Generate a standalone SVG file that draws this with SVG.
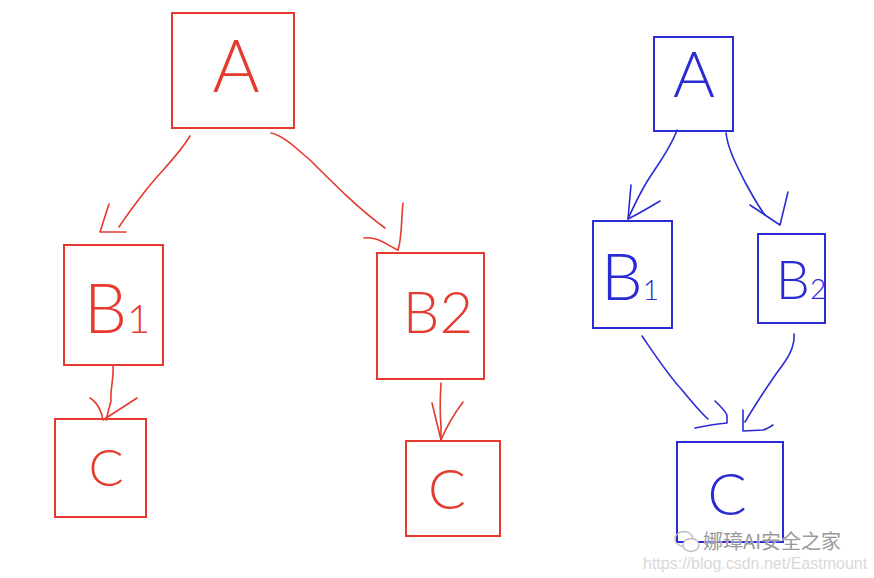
<svg xmlns="http://www.w3.org/2000/svg" width="874" height="578" viewBox="0 0 874 578">
  <style>
    .red { stroke: #e53a2e; }
    .blue { stroke: #2b2bd6; }
    .box { fill: none; stroke-width: 2; }
    .ln { fill: none; stroke-width: 1.6; stroke-linecap: round; stroke-linejoin: round; }
    .lbl { font-family: "Lato", "Inter", "Liberation Sans", sans-serif; font-weight: 300; text-anchor: middle; }
    .lr { fill: #e53a2e; }
    .lb { fill: #2b2bd6; }
    .wm1 { font-family: "Noto Sans CJK SC", "Liberation Sans", sans-serif; font-size: 20px; fill: #9a9a9a; stroke: #ffffff; stroke-width: 0.6; paint-order: stroke; }
    .wm2 { font-family: "Liberation Sans", "Arial", sans-serif; font-size: 16px; fill: #d8d8d8; }
  </style>
  <rect width="874" height="578" fill="#ffffff"/>

  <!-- left tree (red) -->
  <g id="red-A">
    <rect class="box red" x="172" y="13" width="122" height="115"/>
    <text class="lbl lr" x="236" y="92" font-size="72">A</text>
  </g>
  <g id="red-B1">
    <rect class="box red" x="64" y="245" width="99" height="120"/>
    <text class="lbl lr" x="117" y="333" font-size="68">B<tspan font-size="40">1</tspan></text>
  </g>
  <g id="red-B2">
    <rect class="box red" x="377" y="253" width="107" height="126"/>
    <text class="lbl lr" x="438" y="333" font-size="58">B2</text>
  </g>
  <g id="red-C1">
    <rect class="box red" x="55" y="419" width="91" height="98"/>
    <text class="lbl lr" x="106" y="486" font-size="52">C</text>
  </g>
  <g id="red-C2">
    <rect class="box red" x="406" y="441" width="94" height="95"/>
    <text class="lbl lr" x="447" y="509" font-size="56">C</text>
  </g>

  <!-- right graph (blue) -->
  <g id="blue-A">
    <rect class="box blue" x="654" y="37" width="79" height="94"/>
    <text class="lbl lb" x="694" y="97" font-size="64">A</text>
  </g>
  <g id="blue-B1">
    <rect class="box blue" x="593" y="221" width="79" height="107"/>
    <text class="lbl lb" x="630" y="300" font-size="66">B<tspan font-size="28">1</tspan></text>
  </g>
  <g id="blue-B2">
    <rect class="box blue" x="758" y="234" width="67" height="89"/>
    <text class="lbl lb" x="801" y="299" font-size="54">B<tspan font-size="28">2</tspan></text>
  </g>
  <g id="blue-C">
    <rect class="box blue" x="677" y="442" width="106" height="100"/>
    <text class="lbl lb" x="727" y="515" font-size="58">C</text>
  </g>

  <!-- connectors -->
  <g id="connectors">
    <!-- red A -> B1 -->
    <path class="ln red" d="M190 136 C178 156 160 172 146 190 C136 203 126 216 119 227"/>
    <path class="ln red" d="M109 204 L100 232 L126 232"/>
    <!-- red A -> B2 -->
    <path class="ln red" d="M271 133 C283 135 298 150 310 160 C335 185 360 210 385 228"/>
    <path class="ln red" d="M403 203 C401 222 402 238 398 250"/>
    <path class="ln red" d="M364 238 C378 236 388 246 398 250"/>
    <!-- red B1 -> C -->
    <path class="ln red" d="M113 365 C114 378 110 390 111 401 L106 420"/>
    <path class="ln red" d="M90 398 C97 402 102 412 103 420 L137 398"/>
    <!-- red B2 -> C -->
    <path class="ln red" d="M441 383 C440 400 440 416 441 426 L441 440"/>
    <path class="ln red" d="M432 403 C435 415 438 428 441 440 C446 428 454 414 463 402"/>

    <!-- blue A -> B1 -->
    <path class="ln blue" d="M677 130 C670 150 655 168 645 185 C637 199 632 210 628 219"/>
    <path class="ln blue" d="M660 201 C650 207 640 213 628 219 L631 185"/>
    <!-- blue A -> B2 -->
    <path class="ln blue" d="M726 133 C728 150 738 168 745 182 C752 195 758 206 765 215"/>
    <path class="ln blue" d="M750 205 C758 210 766 216 780 225 L788 192"/>
    <!-- blue B1 -> C -->
    <path class="ln blue" d="M642 336 C655 355 668 375 682 390 C692 402 700 412 708 419"/>
    <path class="ln blue" d="M715 401 C720 406 727 412 727 416 L727 423 C716 424 705 426 695 428"/>
    <!-- blue B2 -> C -->
    <path class="ln blue" d="M794 334 C795 350 785 362 776 374 C765 390 755 405 745 422"/>
    <path class="ln blue" d="M743 410 L743 431 L763 430 C767 429 770 427 773 425"/>
  </g>

  <!-- watermark -->
  <g id="watermark">
    <ellipse cx="684" cy="539" rx="9" ry="7.5" fill="none" stroke="#bdbdbd" stroke-width="1.3"/>
    <ellipse cx="691" cy="545" rx="8" ry="6.5" fill="#ffffff" stroke="#bdbdbd" stroke-width="1.3"/>
    <text class="wm1" x="703" y="549">娜璋AI安全之家</text>
    <text class="wm2" x="643" y="569">https://blog.csdn.net/Eastmount</text>
  </g>
</svg>
